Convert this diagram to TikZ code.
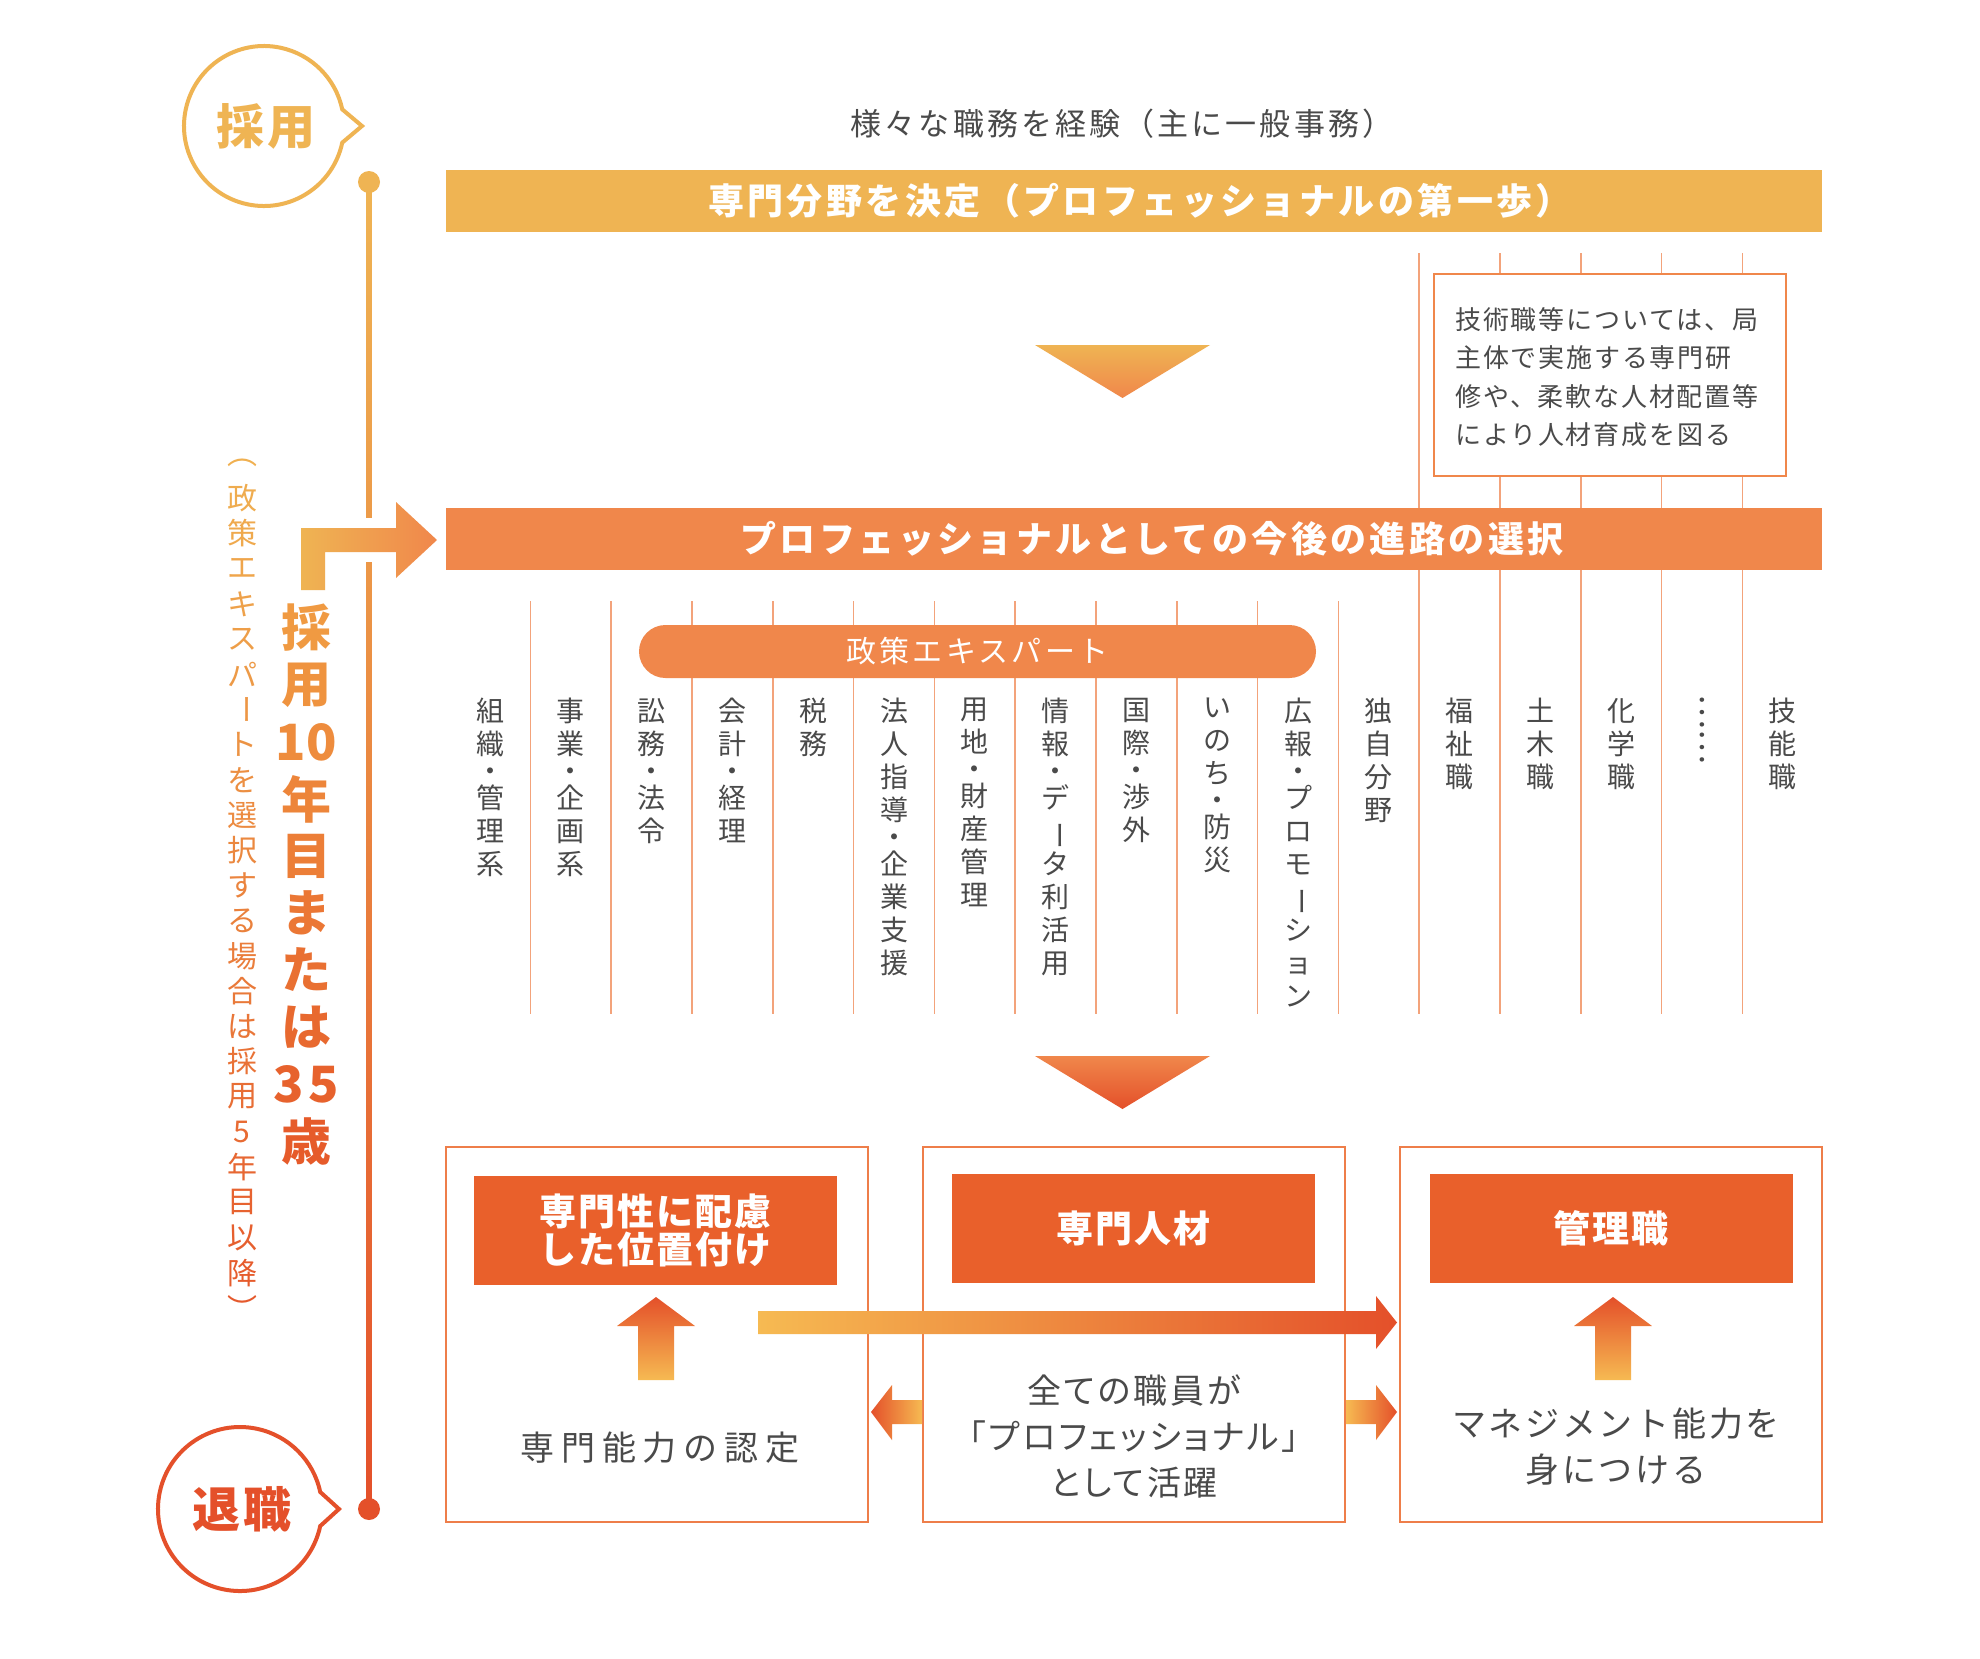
\documentclass[tikz,border=0pt]{standalone}
\usepackage{fontspec}
\setmainfont{Noto Sans CJK JP}
\newfontfamily\jpprop{Noto Sans CJK JP}[RawFeature={+palt}]
\newcommand\jfs[2]{\fontsize{#1pt}{#2pt}\selectfont}
\newcommand\vchoon{\rotatebox[origin=c]{-90}{ー}}
\newcommand\vdot{\\[-6pt]・\\[-6pt]}
\definecolor{cYel}{HTML}{EFB453}
\definecolor{cOra}{HTML}{F0874B}
\definecolor{cHead}{HTML}{E9602B}
\definecolor{cDeep}{HTML}{E4502A}
\definecolor{cBox}{HTML}{EE7E4A}
\definecolor{cLine}{HTML}{F3A37B}
\definecolor{cGray}{HTML}{4A4A4A}
\definecolor{cArrY}{HTML}{F6BA52}
\definecolor{cBigT}{HTML}{F09A42}
\definecolor{cBigB}{HTML}{E65A2A}
\definecolor{cSmT}{HTML}{F0B050}
\definecolor{cSmB}{HTML}{E5552A}
\begin{document}
\begin{tikzpicture}[x=1pt,y=-1pt,
  bandbox/.style={minimum width=1376pt, minimum height=62pt, inner sep=0pt, outer sep=0pt},
  wtitle/.style={text=white, font=\jfs{36}{36}\bfseries\addfontfeature{LetterSpace=8}, inner sep=0pt},
  colline/.style={cLine, line width=1.6pt},
  collab/.style={text=cGray, font=\jfs{28}{33}, align=center, inner sep=0pt, anchor=north},
  outbox/.style={draw=cBox, line width=2pt, fill=white, minimum width=422pt, minimum height=375pt, inner sep=0pt},
  headbox/.style={fill=cHead, minimum width=363pt, minimum height=109pt, inner sep=0pt, text=white, font=\jfs{37}{38}\bfseries\addfontfeature{LetterSpace=5}, align=center},
  bodytxt/.style={text=cGray, align=center, inner sep=0pt},
]
\fill[white] (0,0) rectangle (1980,1658);
\useasboundingbox (0,0) rectangle (1980,1658);

% column lines
\foreach \k in {0,...,10} \draw[colline] (530.4+80.8*\k,601) -- (530.4+80.8*\k,1014);
\foreach \k in {11,...,15} \draw[colline] (530.4+80.8*\k,253) -- (530.4+80.8*\k,1014);

% note box
\node (note) [draw=cOra, line width=1.5pt, fill=white, minimum width=352pt, minimum height=202pt, inner sep=0pt] at (1610,375) {};
\node (notetxt) [text=cGray, align=left, anchor=west, inner sep=0pt, font=\jfs{26}{38.5}\addfontfeature{LetterSpace=7}] at (1455,377)
  {技術職等については、局\\主体で実施する専門研\\修や、柔軟な人材配置等\\により人材育成を図る};

% top text
\node (toptxt) [text=cGray, inner sep=0pt, font=\jfs{31}{31}\addfontfeature{LetterSpace=10}] at (1122,124) {様々な職務を経験（主に一般事務）};

% bands
\node (band1) [bandbox, fill=cYel] at (1134,201) {};
\node (band1t) [wtitle, font=\jfs{36}{36}\bfseries\addfontfeature{LetterSpace=9.5}] at (1140,201) {専門分野を決定（プロフェッショナルの第一歩）};
\node (band2) [bandbox, fill=cOra] at (1134,539) {};
\node (band2t) [wtitle, font=\jfs{36}{36}\bfseries\addfontfeature{LetterSpace=9.5}] at (1152,539) {プロフェッショナルとしての今後の進路の選択};

% pill
\node (pill) [fill=cOra, rounded corners=26.5pt, minimum width=677pt, minimum height=53pt, inner sep=0pt, text=white, font=\jfs{30}{30}\addfontfeature{LetterSpace=11}] at (977.5,651.5) {政策エキスパート};

% column labels
\node (c0) [collab] at (490.0,698) {組\\織\vdot 管\\理\\系};
\node (c1) [collab] at (570.8,698) {事\\業\vdot 企\\画\\系};
\node (c2) [collab] at (651.6,698) {訟\\務\vdot 法\\令};
\node (c3) [collab] at (732.4,698) {会\\計\vdot 経\\理};
\node (c4) [collab] at (813.2,698) {税\\務};
\node (c5) [collab] at (894.0,698) {法\\人\\指\\導\vdot 企\\業\\支\\援};
\node (c6) [collab] at (974.8,698) {用\\地\vdot 財\\産\\管\\理};
\node (c7) [collab] at (1055.6,698) {情\\報\vdot デ\\\vchoon\\タ\\利\\活\\用};
\node (c8) [collab] at (1136.4,698) {国\\際\vdot 渉\\外};
\node (c9) [collab] at (1217.2,698) {い\\の\\ち\vdot 防\\災};
\node (c10) [collab] at (1298.0,698) {広\\報\vdot プ\\ロ\\モ\\\vchoon\\シ\\ョ\\ン};
\node (c11) [collab] at (1378.8,698) {独\\自\\分\\野};
\node (c12) [collab] at (1459.6,698) {福\\祉\\職};
\node (c13) [collab] at (1540.4,698) {土\\木\\職};
\node (c14) [collab] at (1621.2,698) {化\\学\\職};
\node (c15) [collab, anchor=center, font=\jfs{33}{33}] at (1702,729.5) {\rotatebox[origin=c]{-90}{……}};
\node (c16) [collab] at (1782.8,698) {技\\能\\職};

% triangles
\shade[top color=cYel, bottom color=cOra] (1035,345) -- (1210,345) -- (1122.5,398) -- cycle;
\shade[top color=cOra, bottom color=cDeep] (1035,1056) -- (1210,1056) -- (1122.5,1109) -- cycle;

% timeline
\shade[top color=cYel, bottom color=cDeep] (366.5,182) rectangle (371.5,1509);
\node (dotTop) [circle, fill=cYel, minimum size=22pt, inner sep=0pt] at (369,182) {};
\node (dotBot) [circle, fill=cDeep, minimum size=22pt, inner sep=0pt] at (369,1509) {};
\fill[white] (360,518) rectangle (378,562);

% bubbles
\draw[cYel, line width=4pt] (264,126) ++(12:80) arc[start angle=12, end angle=348, radius=80] -- (362,126) -- cycle;
\node (saiyo) [text=cYel, inner sep=0pt, font=\jfs{48}{48}\bfseries\addfontfeature{LetterSpace=6}] at (266,126) {採用};
\draw[cDeep, line width=4pt] (240,1509) ++(12:82) arc[start angle=12, end angle=348, radius=82] -- (339,1509) -- cycle;
\node (taishoku) [text=cDeep, inner sep=0pt, font=\jfs{48}{48}\bfseries\addfontfeature{LetterSpace=6}] at (242,1509) {退職};

% L arrow
\shade[left color=cYel, right color=cOra] (301,528) -- (396,528) -- (396,502) -- (437,540) -- (396,578) -- (396,552) -- (325,552) -- (325,590) -- (301,590) -- cycle;

% big vertical text
\foreach \ch [count=\i from 0] in {採,用,10,年,目,ま,た,は,{3\kern5pt 5},歳} {
  \pgfmathtruncatemacro\p{100-\i*11}
  \node (big\i) [text=cBigT!\p!cBigB, inner sep=0pt, font=\jfs{50}{50}\bfseries] at (306,628+57*\i) {\ch};
}
% small vertical text
\foreach \ch [count=\i from 0] in {︵,政,策,エ,キ,ス,パ,\vchoon,ト,を,選,択,す,る,場,合,は,採,用,5,年,目,以,降,︶} {
  \pgfmathtruncatemacro\p{100-\i*4}
  \node (sm\i) [text=cSmT!\p!cSmB, inner sep=0pt, font=\jfs{30}{30}] at (242,463+35.2*\i) {\ch};
}

% bottom boxes
\node (box1) [outbox] at (657,1334.5) {};
\node (box2) [outbox] at (1134,1334.5) {};
\node (box3) [outbox] at (1611,1334.5) {};
\node (h1) [headbox] at (655.5,1230) {専門性に配慮\\した位置付け};
\node (h2) [headbox] at (1133.5,1228.5) {専門人材};
\node (h3) [headbox] at (1611,1228.5) {管理職};
\node (t1) [bodytxt, font=\jfs{34}{34}\addfontfeature{LetterSpace=20}] at (660,1448) {専門能力の認定};
\node (t2) [bodytxt, font=\jpprop\jfs{34}{46}\addfontfeature{LetterSpace=8}] at (1134,1436) {全ての職員が\\「プロフェッショナル」\\として活躍};
\node (t3) [bodytxt, font=\jfs{34}{46}\addfontfeature{LetterSpace=8}] at (1616,1447) {マネジメント能力を\\身につける};

% up arrows
\foreach \cx/\nm in {656/ua1, 1613/ua3} {
  \coordinate (\nm) at (\cx,1297);
  \shade[top color=cDeep, bottom color=cArrY] (\cx-18,1380) -- (\cx-18,1326) -- (\cx-39,1326) -- (\nm) -- (\cx+39,1326) -- (\cx+18,1326) -- (\cx+18,1380) -- cycle;
}
% long arrow box1 -> box3
\coordinate (laS) at (758,1322.5);
\coordinate (laE) at (1397,1322.5);
\shade[left color=cArrY, right color=cDeep] (758,1311) -- (1376,1311) -- (1376,1296) -- (laE) -- (1376,1349) -- (1376,1334) -- (758,1334) -- cycle;
% small arrows
\coordinate (saL) at (871,1412);
\shade[left color=cDeep, right color=cArrY] (saL) -- (892,1385) -- (892,1400) -- (box2.west |- 0,1400) -- (box2.west |- 0,1424) -- (892,1424) -- (892,1440) -- cycle;
\coordinate (saR) at (1397,1412);
\shade[left color=cArrY, right color=cDeep] (box2.east |- 0,1400) -- (1376,1400) -- (1376,1385) -- (saR) -- (1376,1440) -- (1376,1424) -- (box2.east |- 0,1424) -- cycle;
\end{tikzpicture}
\end{document}
